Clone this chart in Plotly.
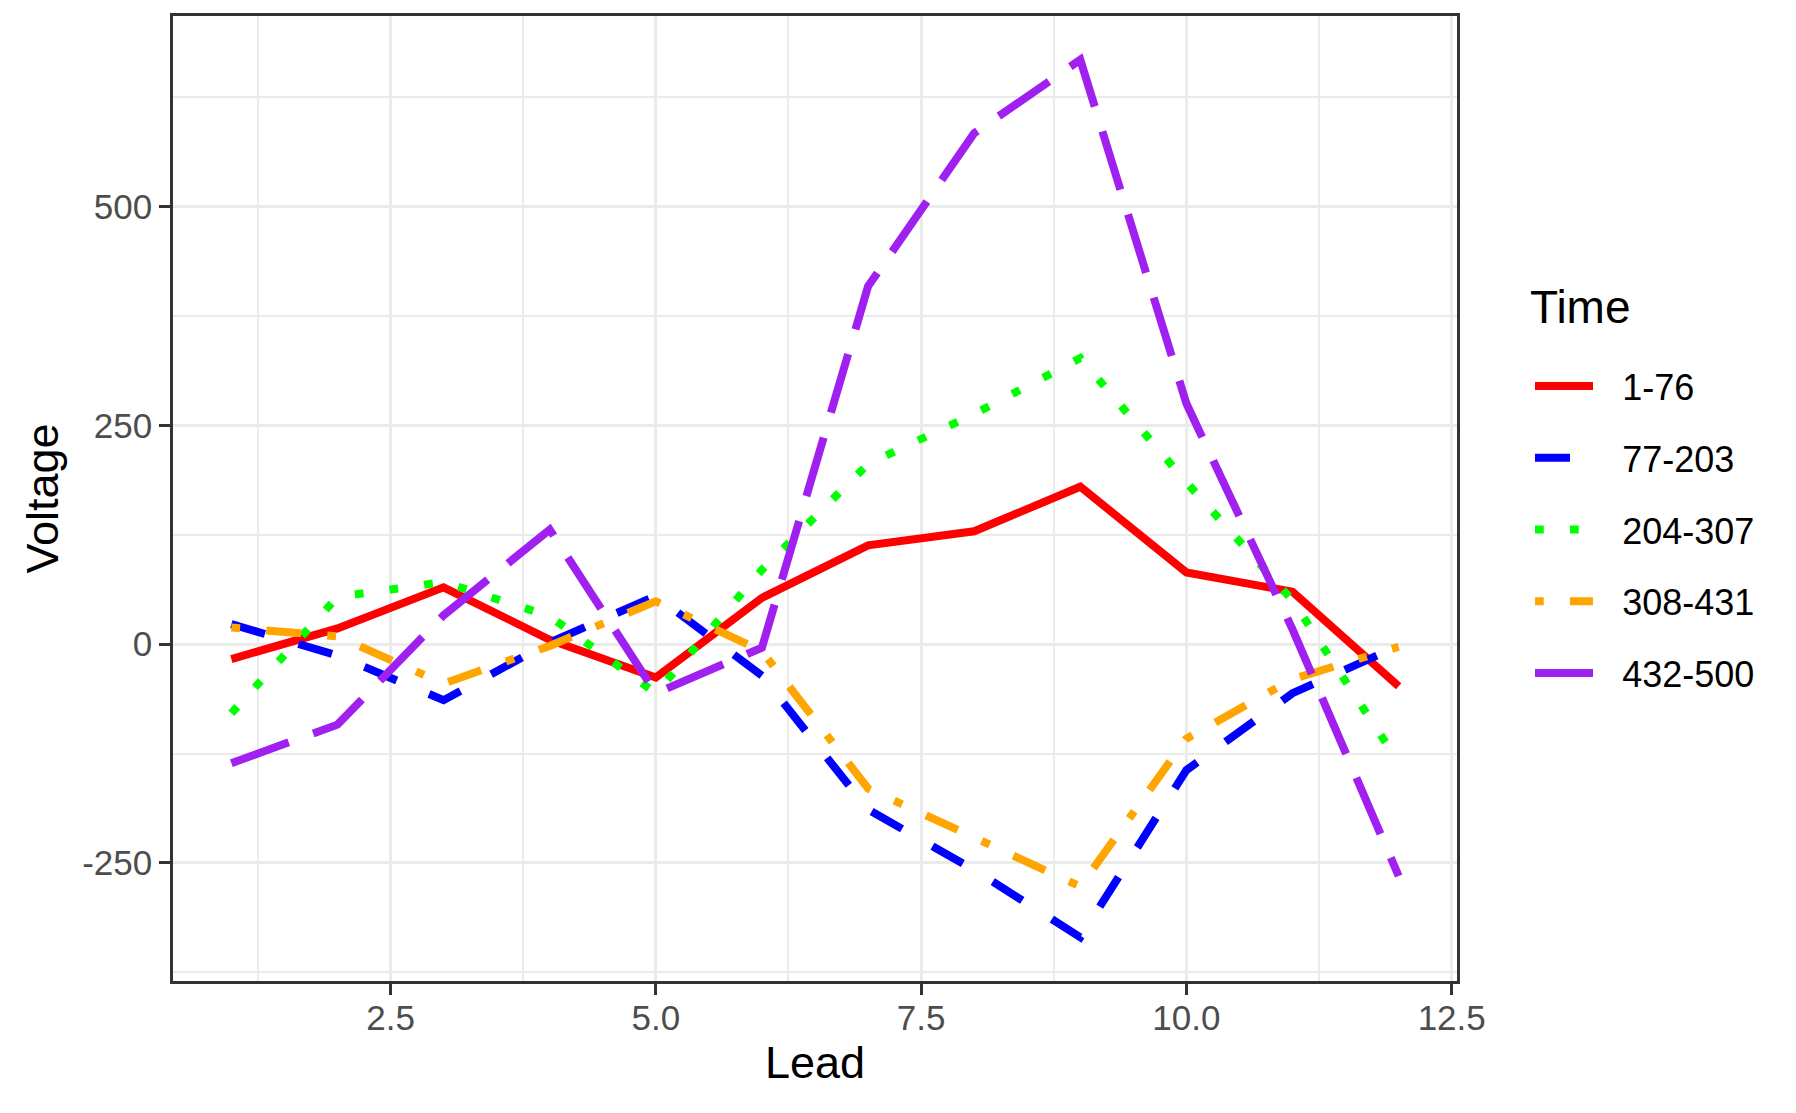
import plotly.graph_objects as go

# ---- data ----
lead = [1, 2, 3, 4, 5, 6, 7, 8, 9, 10, 11, 12]
series_names = ["1-76", "77-203", "204-307", "308-431", "432-500"]
v_1_76 = [-17, 18, 65, 5, -38, 53, 113, 129, 180, 82, 60, -48]
v_77_203 = [23, -13, -64, 2, 55, -36, -189, -258, -335, -144, -56, -2]
v_204_307 = [-79, 54, 71, 32, -56, 85, 206, 263, 327, 185, 50, -135]
v_308_431 = [19, 9, -45, -2, 49, -8, -165, -221, -277, -108, -40, -3]
v_432_500 = [-136, -92, 33, 131, -56, -4, 409, 584, 668, 275, 17, -265]
x_tickvals = [2.5, 5.0, 7.5, 10.0, 12.5]
x_ticktext = ["2.5", "5.0", "7.5", "10.0", "12.5"]
y_tickvals = [-250, 0, 250, 500]
y_ticktext = ["-250", "0", "250", "500"]

values = [v_1_76, v_77_203, v_204_307, v_308_431, v_432_500]
colors = ["#FF0000", "#0000FF", "#00FF00", "#FFA500", "#A020F0"]
dashes = ["solid", "35px,35px", "8.75px,26.25px", "8.75px,26.25px,35px,26.25px", "61px,26px"]

FONT = "Liberation Sans, Arial, sans-serif"
PAD = '<span style="font-size:29px">\u00a0\u00a0\u00a0</span>'

fig = go.Figure()
for i, (name, vals) in enumerate(zip(series_names, values)):
    fig.add_trace(go.Scatter(
        x=lead, y=vals, name=PAD + name, mode="lines",
        line=dict(color=colors[i], width=8, dash=dashes[i]),
        legendgroup=name,
    ))

# page body has an 8px margin, so figure coordinates are shifted by 8px
W, H = 1796, 1113
L, R, T, B = 165, 1449, 8, 973


def px_x(x):
    return (x - L) / (R - L)


def px_y(y):
    return 1 - (y - T) / (B - T)


fig.update_layout(
    width=W, height=H,
    paper_bgcolor="white", plot_bgcolor="white",
    margin=dict(l=L, r=W - R, t=T, b=H - B, autoexpand=False),
    font=dict(family=FONT, color="black"),
    showlegend=True,
    legend=dict(
        font=dict(size=36, color="black", family=FONT),
        x=px_x(1522), xanchor="left",
        y=px_y(348), yanchor="top",
        bgcolor="rgba(0,0,0,0)", borderwidth=0,
        tracegroupgap=22, itemwidth=58,
    ),
    annotations=[dict(
        text="Time", xref="paper", yref="paper",
        x=px_x(1520), y=px_y(299), xanchor="left", yanchor="middle",
        showarrow=False, font=dict(size=46, color="black", family=FONT),
    )],
    xaxis=dict(
        range=[0.45, 12.55], tickmode="array", tickvals=x_tickvals, ticktext=x_ticktext,
        showgrid=True, gridcolor="#EBEBEB", gridwidth=3,
        minor=dict(tick0=0, dtick=1.25, showgrid=True, gridcolor="#EBEBEB", gridwidth=1.5, ticks=""),
        ticks="outside", ticklen=11, tickwidth=2.5, tickcolor="#333333",
        ticklabelstandoff=-7,
        tickfont=dict(size=35, color="#4D4D4D", family=FONT),
        showline=True, linecolor="#333333", linewidth=2.5, mirror=True, zeroline=False,
        title=dict(text="Lead", font=dict(size=45, color="black", family=FONT), standoff=11),
    ),
    yaxis=dict(
        range=[-385, 718], tickmode="array", tickvals=y_tickvals, ticktext=y_ticktext,
        showgrid=True, gridcolor="#EBEBEB", gridwidth=3,
        minor=dict(tick0=0, dtick=125, showgrid=True, gridcolor="#EBEBEB", gridwidth=1.5, ticks=""),
        ticks="outside", ticklen=11, tickwidth=2.5, tickcolor="#333333",
        tickfont=dict(size=35, color="#4D4D4D", family=FONT),
        showline=True, linecolor="#333333", linewidth=2.5, mirror=True, zeroline=False,
        title=dict(text="Voltage", font=dict(size=45, color="black", family=FONT), standoff=10),
    ),
)

fig.write_html("out.html")
